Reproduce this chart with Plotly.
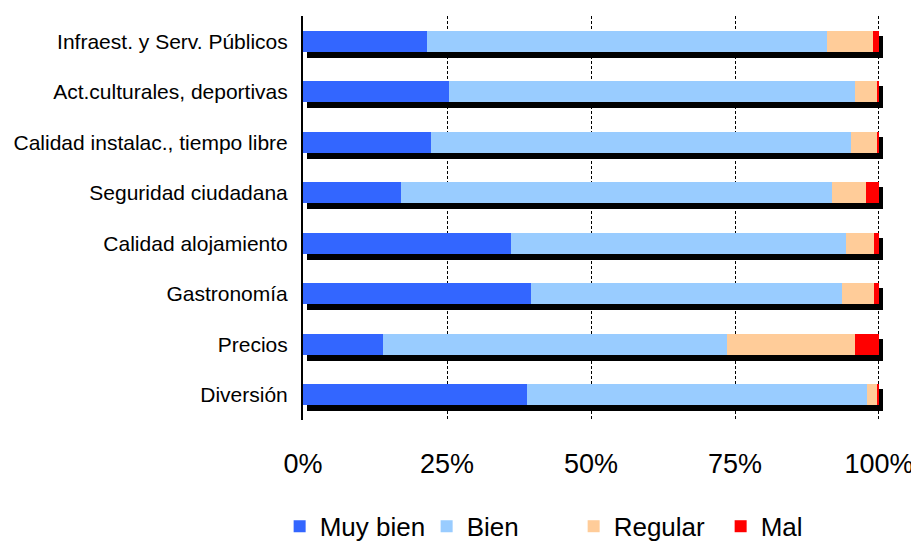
import plotly.graph_objects as go

# ====== data ======
categorias = [
    "Infraest. y Serv. Públicos",
    "Act.culturales, deportivas",
    "Calidad instalac., tiempo libre",
    "Seguridad ciudadana",
    "Calidad alojamiento",
    "Gastronomía",
    "Precios",
    "Diversión",
]
muy_bien = [21.5, 25.3, 22.2, 17.0, 36.1, 39.6, 13.9, 38.9]
bien = [69.5, 70.5, 72.9, 74.8, 58.2, 54.0, 59.7, 59.0]
regular = [8.0, 3.9, 4.5, 5.9, 4.8, 5.5, 22.2, 1.8]
mal = [1.0, 0.3, 0.4, 2.3, 0.9, 0.9, 4.2, 0.3]

tick_vals = [0, 25, 50, 75, 100]
tick_text = ["0%", "25%", "50%", "75%", "100%"]

series = [
    ("Muy bien", muy_bien, "#3366FF"),
    ("Bien", bien, "#99CCFF"),
    ("Regular", regular, "#FFCC99"),
    ("Mal", mal, "#FF0000"),
]

FONT = "Arial, Liberation Sans, sans-serif"
n = len(categorias)
totales = [a + b + c + d for a, b, c, d in zip(muy_bien, bien, regular, mal)]

fig = go.Figure()

# sombra negra (ejes base, desplazados unos px a la derecha y abajo)
fig.add_trace(go.Bar(
    x=totales, y=categorias, orientation="h",
    marker=dict(color="black", line_width=0),
    width=0.44, showlegend=False, hoverinfo="skip",
    xaxis="x", yaxis="y",
))

# barras apiladas (ejes superpuestos)
for nombre, vals, color in series:
    fig.add_trace(go.Bar(
        x=vals, y=categorias, orientation="h", name=nombre,
        marker=dict(color=color, line_width=0),
        width=0.42, xaxis="x2", yaxis="y2",
    ))

x_max = 101.39
dx = 0.69   # ~4 px
dy = 0.11   # ~5 px

fig.update_layout(
    width=919, height=541,
    barmode="stack",
    plot_bgcolor="white", paper_bgcolor="white",
    # la página añade 8 px de margen al body
    margin=dict(l=295, r=40, t=8, b=129, autoexpand=False),
    font=dict(family=FONT, color="black"),
    xaxis=dict(range=[-dx, x_max - dx], visible=False, fixedrange=True),
    yaxis=dict(categoryorder="array", categoryarray=categorias,
               range=[n - 0.5 - dy, -0.5 - dy], visible=False),
    xaxis2=dict(overlaying="x", anchor="y2", range=[0, x_max],
                tickvals=tick_vals, ticktext=tick_text,
                tickfont=dict(size=27), ticklabelstandoff=25,
                showgrid=True, gridcolor="black", gridwidth=1,
                griddash="3px,2px", zeroline=False, showline=False,
                automargin=False),
    yaxis2=dict(overlaying="y", anchor="x2",
                categoryorder="array", categoryarray=categorias,
                range=[n - 0.5, -0.5], tickfont=dict(size=21),
                ticklabelstandoff=9, showgrid=False, automargin=False,
                showline=True, linecolor="black", linewidth=2),
    legend=dict(orientation="h", x=-0.04, xanchor="left",
                y=-0.205, yanchor="top", font=dict(size=26),
                entrywidth=102, traceorder="normal"),
)

fig.write_html("out.html")
